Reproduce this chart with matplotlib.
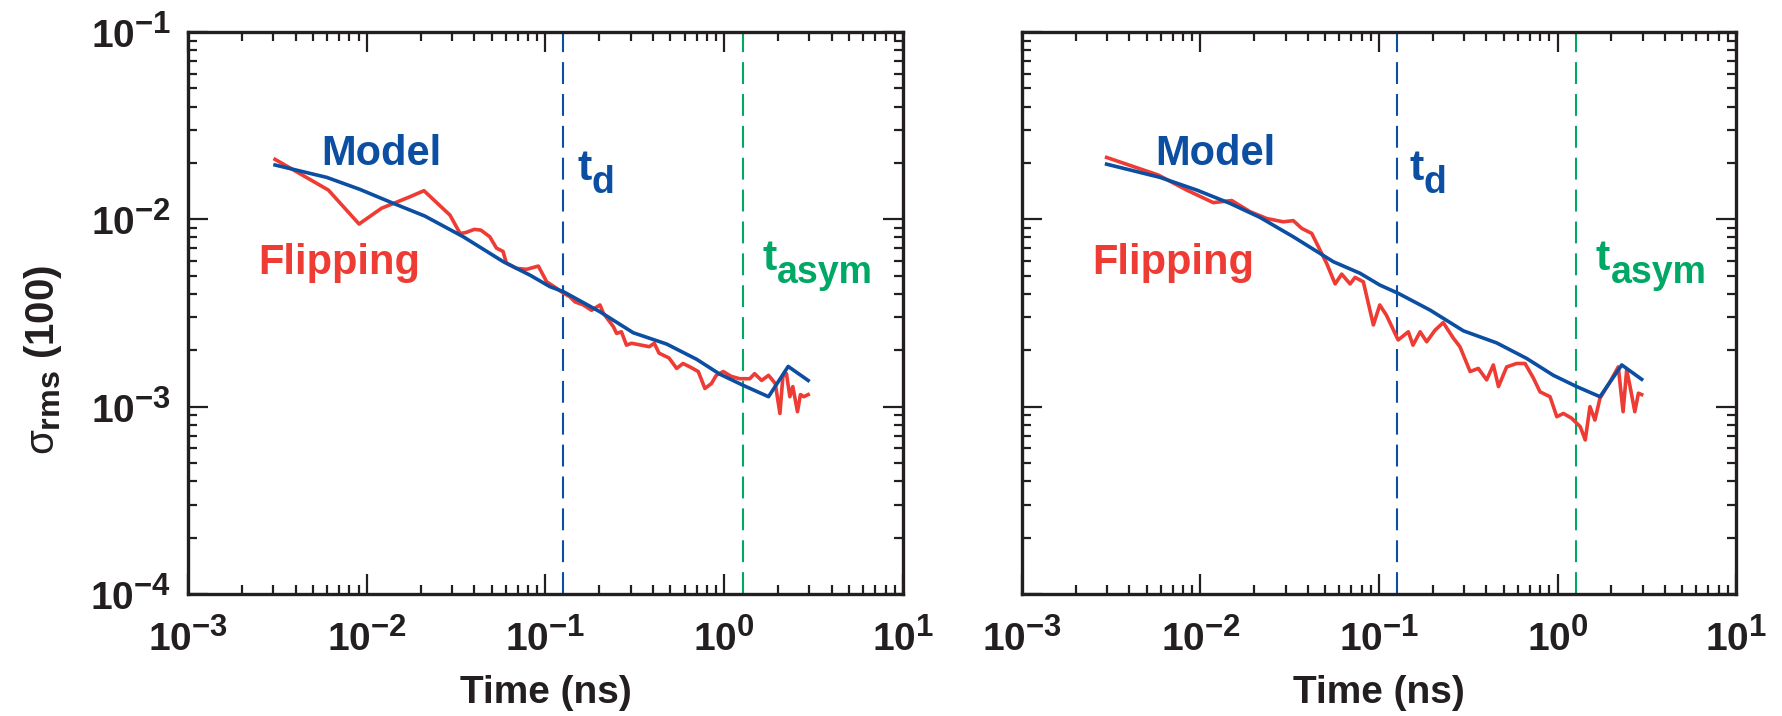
import matplotlib
matplotlib.use("Agg")
from matplotlib import pyplot as plt
from matplotlib.ticker import LogLocator, FuncFormatter, NullFormatter
import matplotlib._mathtext as mt_internal
import numpy as np

plt.rcParams['font.family'] = ['Liberation Sans', 'DejaVu Sans']
plt.rcParams['mathtext.fontset'] = 'custom'
plt.rcParams['mathtext.rm'] = 'Liberation Sans'
plt.rcParams['mathtext.it'] = 'Liberation Sans'
plt.rcParams['mathtext.bf'] = 'Liberation Sans:bold'
# the original uses bigger super/subscripts than mathtext's default 0.7
mt_internal.SHRINK_FACTOR = 0.8

# ---- data ----
t_d = 0.126
t_asym = 1.27

model_left_t = [3.07e-3, 5.97e-3, 9.16e-3, 0.01409, 0.0211, 0.0347, 0.0581, 0.0818, 0.106, 0.126,
                0.2018, 0.310, 0.476, 0.701, 0.946, 1.276, 1.77, 2.28, 2.95]
model_left = [0.0195, 0.01675, 0.01445, 0.01217, 0.01042, 8.07e-3, 5.94e-3, 5.04e-3, 4.37e-3, 4.11e-3,
              3.21e-3, 2.48e-3, 2.16e-3, 1.79e-3, 1.49e-3, 1.30e-3, 1.13e-3, 1.64e-3, 1.38e-3]

flip_left_t = [3.07e-3, 6.1e-3, 9.06e-3, 0.0121, 0.01746, 0.0209, 0.0292, 0.0333, 0.0358, 0.0400,
               0.0435, 0.0488, 0.0532, 0.0579, 0.0604, 0.0689, 0.0785, 0.0912, 0.1016, 0.1106,
               0.126, 0.137, 0.146, 0.163, 0.181, 0.2018, 0.211, 0.240, 0.250, 0.266,
               0.284, 0.303, 0.344, 0.381, 0.406, 0.432, 0.491, 0.542, 0.588, 0.643,
               0.716, 0.780, 0.849, 0.903, 0.987, 1.097, 1.22, 1.39, 1.48, 1.62,
               1.77, 1.93, 2.05, 2.13, 2.23, 2.33, 2.42, 2.57, 2.67, 2.79, 2.95]
flip_left = [0.0209, 0.01433, 9.44e-3, 0.01146, 0.0132, 0.01422, 0.01054, 8.41e-3, 8.5e-3, 8.84e-3,
             8.76e-3, 8.07e-3, 7.02e-3, 6.74e-3, 5.85e-3, 5.47e-3, 5.41e-3, 5.63e-3, 4.64e-3, 4.40e-3,
             4.04e-3, 3.86e-3, 3.63e-3, 3.49e-3, 3.27e-3, 3.49e-3, 3.15e-3, 2.67e-3, 2.46e-3, 2.51e-3,
             2.13e-3, 2.18e-3, 2.13e-3, 2.09e-3, 2.18e-3, 1.93e-3, 1.82e-3, 1.60e-3, 1.70e-3, 1.63e-3,
             1.54e-3, 1.25e-3, 1.33e-3, 1.47e-3, 1.54e-3, 1.45e-3, 1.41e-3, 1.41e-3, 1.50e-3, 1.38e-3,
             1.47e-3, 1.33e-3, 9.2e-4, 1.45e-3, 1.50e-3, 1.13e-3, 1.28e-3, 9.4e-4, 1.16e-3, 1.13e-3, 1.16e-3]

model_right_t = [2.98e-3, 5.93e-3, 9.53e-3, 0.01462, 0.0215, 0.0331, 0.0555, 0.0784, 0.101, 0.128,
                 0.193, 0.297, 0.456, 0.671, 0.948, 1.28, 1.73, 2.29, 2.96]
model_right = [0.0197, 0.01675, 0.01433, 0.01217, 0.01025, 8.07e-3, 5.94e-3, 5.15e-3, 4.46e-3, 4.03e-3,
               3.28e-3, 2.54e-3, 2.19e-3, 1.81e-3, 1.47e-3, 1.28e-3, 1.13e-3, 1.67e-3, 1.40e-3]

flip_right_t = [2.98e-3, 5.8e-3, 8.37e-3, 0.0118, 0.01496, 0.0189, 0.0235, 0.0291, 0.0331, 0.0369,
                0.042, 0.0509, 0.0568, 0.0618, 0.0689, 0.0734, 0.0817, 0.093, 0.101, 0.110,
                0.128, 0.146, 0.155, 0.170, 0.185, 0.206, 0.229, 0.261, 0.284, 0.324,
                0.360, 0.401, 0.437, 0.467, 0.519, 0.590, 0.658, 0.733, 0.798, 0.908,
                0.991, 1.08, 1.20, 1.34, 1.43, 1.52, 1.62, 1.73, 1.97, 2.19,
                2.33, 2.44, 2.55, 2.71, 2.84, 2.96]
flip_right = [0.0214, 0.01724, 0.01433, 0.01228, 0.0126, 0.0110, 0.0101, 9.70e-3, 9.84e-3, 8.95e-3,
              8.41e-3, 5.82e-3, 4.52e-3, 5.10e-3, 4.52e-3, 4.9e-3, 4.64e-3, 2.73e-3, 3.49e-3, 3.08e-3,
              2.27e-3, 2.51e-3, 2.13e-3, 2.51e-3, 2.22e-3, 2.56e-3, 2.81e-3, 2.32e-3, 2.09e-3, 1.54e-3,
              1.60e-3, 1.39e-3, 1.67e-3, 1.28e-3, 1.63e-3, 1.70e-3, 1.70e-3, 1.42e-3, 1.20e-3, 1.13e-3,
              8.84e-4, 9.2e-4, 8.67e-4, 7.82e-4, 6.64e-4, 1.0e-3, 8.48e-4, 1.11e-3, 1.36e-3, 1.63e-3,
              9.4e-4, 1.57e-3, 1.28e-3, 9.4e-4, 1.18e-3, 1.16e-3]

BLUE = '#0b4ea2'
RED = '#ee3b33'
GREEN = '#00a865'
INK = '#231f20'


def sci(v, pos):
    e = int(round(np.log10(v)))
    return r'$\mathbf{10^{%d}}$' % e if e >= 0 else r'$\mathbf{10^{-%d}}$' % -e


def panel(ax, mt, my, ft, fy, show_ylabels):
    ax.plot(ft, fy, color=RED, lw=2.6, zorder=3)
    ax.plot(mt, my, color=BLUE, lw=2.6, zorder=4)
    ax.axvline(t_d, color=BLUE, lw=1.5, dashes=(10.5, 4.8), zorder=2)
    ax.axvline(t_asym, color=GREEN, lw=1.5, dashes=(10.5, 4.8), zorder=2)

    ax.set_xscale('log')
    ax.set_yscale('log')
    ax.set_xlim(1e-3, 1e1)
    ax.set_ylim(1e-4, 1e-1)
    for a in (ax.xaxis, ax.yaxis):
        a.set_major_locator(LogLocator(base=10, numticks=10))
        a.set_minor_locator(LogLocator(base=10, subs=np.arange(2, 10), numticks=10))
        a.set_minor_formatter(NullFormatter())
    ax.xaxis.set_major_formatter(FuncFormatter(sci))
    if show_ylabels:
        ax.yaxis.set_major_formatter(FuncFormatter(sci))
    else:
        ax.yaxis.set_major_formatter(NullFormatter())
    ax.tick_params(which='both', direction='in', top=True, right=True,
                   color=INK, labelcolor=INK, labelsize=28)
    ax.tick_params(which='major', length=14.5, width=1.6)
    ax.tick_params(axis='x', which='major', pad=18)
    ax.tick_params(axis='y', which='major', pad=12)
    ax.tick_params(which='minor', length=6.5, width=1.6)
    for s in ax.spines.values():
        s.set_linewidth(2.4)
        s.set_color(INK)

    ax.set_xlabel('Time (ns)', fontsize=28, fontweight='bold', color=INK, labelpad=11)

    ax.text(0.187, 0.763, 'Model', transform=ax.transAxes, color=BLUE,
            fontsize=30, fontweight='bold', ha='left', va='baseline')
    ax.text(0.098, 0.569, 'Flipping', transform=ax.transAxes, color=RED,
            fontsize=30, fontweight='bold', ha='left', va='baseline')


fig = plt.figure(figsize=(17.82, 7.16), dpi=100)
ax1 = fig.add_axes([0.1055, 0.1704, 0.4012, 0.7849])
ax2 = fig.add_axes([0.5735, 0.1704, 0.4007, 0.7849])

panel(ax1, model_left_t, model_left, flip_left_t, flip_left, True)
panel(ax2, model_right_t, model_right, flip_right_t, flip_right, False)

# t_d and t_asym labels (subscript drawn nearly full size, as in the original)
for ax, xt, xs, xa, xas in [(ax1, 0.545, 0.565, 0.803, 0.824), (ax2, 0.543, 0.563, 0.803, 0.825)]:
    ax.text(xt, 0.737, 't', transform=ax.transAxes, color=BLUE, fontsize=31,
            fontweight='bold', va='baseline')
    ax.text(xs, 0.7135, 'd', transform=ax.transAxes, color=BLUE, fontsize=27,
            fontweight='bold', va='baseline')
    ax.text(xa, 0.577, 't', transform=ax.transAxes, color=GREEN, fontsize=31,
            fontweight='bold', va='baseline')
    ax.text(xas, 0.553, 'asym', transform=ax.transAxes, color=GREEN, fontsize=27,
            fontweight='bold', va='baseline')

fig.text(0.024, 0.497, r'$\sigma_{\mathbf{rms}}$ (100)', rotation=90, fontsize=29,
         fontweight='bold', color=INK, ha='center', va='center')

plt.savefig('out.png', dpi=100)
